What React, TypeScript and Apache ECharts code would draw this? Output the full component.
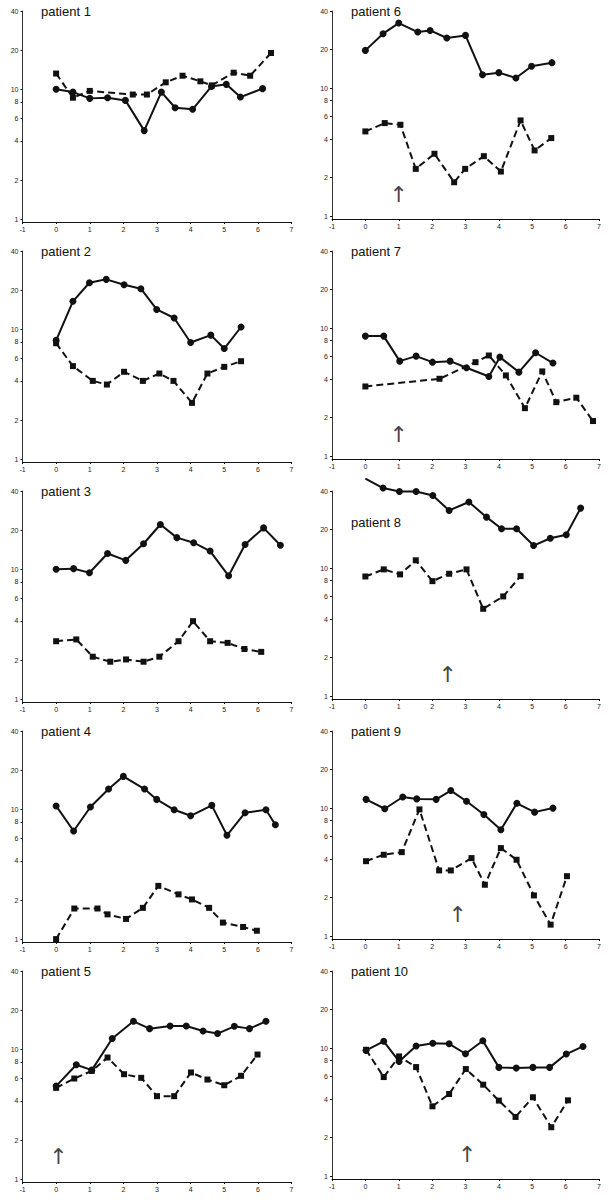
import React, { useEffect, useRef } from "react";
import * as echarts from "echarts";

const titles = ["patient 1", "patient 2", "patient 3", "patient 4", "patient 5", "patient 6", "patient 7", "patient 8", "patient 9", "patient 10"];
const yTickValues = [1, 2, 4, 6, 8, 10, 20, 40];
const xMin = -1;
const xMax = 7;

const p1Solid = [[0, 10.0], [0.5, 9.5], [1.0, 8.5], [1.53, 8.6], [2.06, 8.2], [2.62, 4.8], [3.13, 9.5], [3.54, 7.2], [4.06, 7.0], [4.62, 10.5], [5.06, 10.9], [5.48, 8.7], [6.14, 10.1]];
const p1Dashed = [[0, 13.2], [0.5, 8.6], [1.0, 9.7], [2.28, 9.1], [2.7, 9.1], [3.26, 11.3], [3.76, 12.7], [4.29, 11.5], [4.63, 10.7], [5.28, 13.4], [5.77, 12.7], [6.39, 19.0]];

const p2Solid = [[0, 8.2], [0.5, 16.4], [0.99, 22.8], [1.49, 24.2], [2.02, 22.0], [2.52, 20.5], [2.99, 14.2], [3.51, 12.2], [4.0, 7.9], [4.6, 9.0], [5.0, 7.1], [5.5, 10.4]];
const p2Dashed = [[0, 7.8], [0.5, 5.2], [1.09, 4.0], [1.51, 3.75], [2.02, 4.7], [2.58, 4.0], [3.07, 4.56], [3.49, 4.0], [4.04, 2.71], [4.5, 4.56], [5.0, 5.13], [5.5, 5.67]];

const p3Solid = [[0, 10.0], [0.52, 10.1], [0.99, 9.4], [1.53, 13.2], [2.07, 11.7], [2.6, 15.7], [3.1, 22.1], [3.59, 17.5], [4.09, 16.0], [4.58, 13.8], [5.13, 8.9], [5.62, 15.5], [6.17, 20.8], [6.67, 15.3]];
const p3Dashed = [[0, 2.79], [0.6, 2.88], [1.09, 2.12], [1.61, 1.94], [2.08, 2.02], [2.6, 1.94], [3.07, 2.12], [3.64, 2.79], [4.07, 3.98], [4.58, 2.79], [5.1, 2.71], [5.6, 2.43], [6.1, 2.31]];

const p4Solid = [[0, 10.6], [0.52, 6.8], [1.02, 10.4], [1.56, 14.3], [2.0, 17.9], [2.63, 14.3], [2.99, 11.9], [3.51, 9.9], [4.0, 8.9], [4.63, 10.7], [5.08, 6.3], [5.62, 9.4], [6.24, 9.9], [6.52, 7.6]];
const p4Dashed = [[0, 1.0], [0.54, 1.72], [1.23, 1.72], [1.53, 1.55], [2.08, 1.43], [2.58, 1.74], [3.04, 2.57], [3.64, 2.21], [4.04, 2.02], [4.55, 1.74], [4.96, 1.34], [5.56, 1.24], [5.97, 1.16]];

const p5Solid = [[0, 5.2], [0.6, 7.6], [1.06, 6.9], [1.67, 12.1], [2.3, 16.4], [2.78, 14.4], [3.39, 15.1], [3.87, 15.1], [4.37, 13.8], [4.8, 13.2], [5.3, 15.0], [5.75, 14.4], [6.24, 16.4]];
const p5Dashed = [[0, 5.04], [0.54, 5.95], [1.06, 6.81], [1.53, 8.63], [2.02, 6.42], [2.53, 6.02], [3.0, 4.35], [3.51, 4.35], [4.01, 6.62], [4.5, 5.84], [5.0, 5.28], [5.5, 6.24], [5.99, 9.1]];

const p6Solid = [[0, 19.7], [0.53, 26.6], [1.0, 32.2], [1.57, 27.4], [1.94, 28.2], [2.44, 24.6], [3.0, 25.8], [3.51, 12.7], [4.0, 13.2], [4.51, 12.0], [4.98, 14.8], [5.59, 15.8]];
const p6Dashed = [[0, 4.59], [0.58, 5.33], [1.05, 5.17], [1.51, 2.34], [2.07, 3.07], [2.66, 1.84], [2.99, 2.34], [3.55, 2.94], [4.06, 2.23], [4.65, 5.59], [5.07, 3.26], [5.57, 4.07]];

const p7Solid = [[0, 8.66], [0.55, 8.66], [1.03, 5.52], [1.52, 6.04], [2.01, 5.42], [2.54, 5.52], [3.03, 4.9], [3.7, 4.19], [4.03, 5.93], [4.6, 4.53], [5.1, 6.42], [5.62, 5.33]];
const p7Dashed = [[0, 3.5], [2.22, 4.02], [3.3, 5.42], [3.7, 6.11], [4.21, 4.27], [4.78, 2.37], [5.3, 4.59], [5.72, 2.64], [6.32, 2.86], [6.82, 1.88]];

const p8Start = [0, 50];
const p8Solid = [[0.53, 42.2], [1.02, 39.7], [1.52, 39.7], [2.02, 36.9], [2.51, 28.2], [3.1, 32.8], [3.63, 25.0], [4.08, 20.3], [4.53, 20.3], [5.04, 15.0], [5.54, 17.1], [6.02, 18.2], [6.45, 29.4]];
const p8Dashed = [[0, 8.6], [0.55, 9.77], [1.04, 8.93], [1.51, 11.5], [2.01, 7.91], [2.51, 9.03], [3.03, 9.77], [3.53, 4.81], [4.13, 6.01], [4.65, 8.66]];

const p9Solid = [[0.02, 11.7], [0.58, 9.88], [1.12, 12.2], [1.54, 11.8], [2.12, 11.7], [2.56, 13.7], [3.03, 11.3], [3.55, 8.92], [4.06, 6.77], [4.54, 10.9], [5.07, 9.3], [5.62, 10.0]];
const p9Dashed = [[0.02, 3.85], [0.55, 4.32], [1.09, 4.53], [1.62, 9.77], [2.21, 3.26], [2.56, 3.26], [3.18, 4.07], [3.58, 2.52], [4.06, 4.87], [4.53, 3.95], [5.05, 2.08], [5.55, 1.23], [6.04, 2.94]];

const p10Solid = [[0.02, 9.6], [0.55, 11.3], [1.01, 7.87], [1.52, 10.4], [2.02, 10.9], [2.51, 10.8], [3.0, 9.03], [3.52, 11.4], [4.0, 7.07], [4.52, 6.98], [5.02, 7.07], [5.52, 7.07], [6.02, 8.98], [6.52, 10.3]];
const p10Dashed = [[0.02, 9.7], [0.55, 5.94], [1.01, 8.61], [1.52, 7.11], [2.01, 3.51], [2.51, 4.38], [3.01, 6.86], [3.53, 5.18], [4.0, 3.89], [4.5, 2.9], [5.02, 4.13], [5.57, 2.41], [6.07, 3.91]];

// arrows: panel index (0-based), x, y
const arrowPanels = [4, 5, 6, 7, 8, 9];
const arrowX = [0.07, 1.0, 1.0, 2.47, 2.77, 3.05];
const arrowY = [1.5, 1.47, 1.47, 1.47, 1.47, 1.47];

const solidData: any[] = [p1Solid, p2Solid, p3Solid, p4Solid, p5Solid, p6Solid, p7Solid, [{ value: p8Start, symbol: "none" }, ...p8Solid], p9Solid, p10Solid];
const dashedData = [p1Dashed, p2Dashed, p3Dashed, p4Dashed, p5Dashed, p6Dashed, p7Dashed, p8Dashed, p9Dashed, p10Dashed];

const FONT = "'Liberation Sans', Arial, Helvetica, sans-serif";
const INK = "#111";

export default function App() {
  const ref = useRef<HTMLDivElement>(null);
  useEffect(() => {
    if (!ref.current) return;
    const chart = echarts.init(ref.current, undefined, { renderer: "svg" });
    const grids: any[] = [];
    const xAxes: any[] = [];
    const yAxes: any[] = [];
    const series: any[] = [];
    const title: any[] = [];
    for (let i = 0; i < 10; i++) {
      const col = i < 5 ? 0 : 1;
      const row = i % 5;
      const left = col === 0 ? 22.5 : 332;
      const width = col === 0 ? 269 : 267;
      const height = col === 0 ? 211 : 208;
      const top = row * 240 + 11;
      grids.push({ left, top, width, height });
      xAxes.push({
        type: "value",
        gridIndex: i,
        min: xMin,
        max: xMax,
        interval: 1,
        splitLine: { show: false },
        axisLine: { onZero: false, lineStyle: { color: INK, width: 1.2 } },
        axisTick: { length: 2, lineStyle: { color: INK } },
        axisLabel: { fontSize: 7, color: "#222", margin: 4, fontFamily: FONT },
      });
      yAxes.push({
        type: "log",
        gridIndex: i,
        min: 0.95,
        max: 40,
        splitLine: { show: false },
        minorTick: { show: false },
        axisLine: { show: true, onZero: false, lineStyle: { color: "#333", width: 1 } },
        axisTick: { show: true, length: 2, customValues: yTickValues, lineStyle: { color: INK } },
        axisLabel: { fontSize: 7, color: "#222", margin: 4, fontFamily: FONT, customValues: yTickValues },
      });
      title.push({
        text: titles[i],
        left: col === 0 ? 41 : 351,
        top: i === 7 ? row * 240 + 36 : row * 240 + 5,
        padding: 0,
        textStyle: { fontSize: 13, fontWeight: "normal", color: INK, fontFamily: FONT },
      });
      series.push({
        type: "line",
        xAxisIndex: i,
        yAxisIndex: i,
        data: dashedData[i],
        symbol: "rect",
        symbolSize: 6,
        clip: false,
        lineStyle: { color: INK, width: 2, type: [7, 4] },
        itemStyle: { color: INK },
        z: 2,
      });
      series.push({
        type: "line",
        xAxisIndex: i,
        yAxisIndex: i,
        data: solidData[i],
        symbol: "circle",
        symbolSize: 7,
        clip: false,
        lineStyle: { color: INK, width: 2 },
        itemStyle: { color: INK },
        z: 3,
      });
    }
    arrowPanels.forEach((p, k) => {
      series.push({
        type: "scatter",
        xAxisIndex: p,
        yAxisIndex: p,
        data: [[arrowX[k], arrowY[k]]],
        symbolSize: 1,
        itemStyle: { color: "rgba(255,255,255,0)" },
        label: {
          show: true,
          position: "inside",
          formatter: "\u2191",
          fontSize: 22,
          color: INK,
          textBorderWidth: 0,
          textBorderColor: "rgba(255,255,255,0)",
          fontFamily: "'DejaVu Sans', sans-serif",
        },
        z: 4,
      });
    });
    chart.setOption({
      animation: false,
      backgroundColor: "#fff",
      title,
      grid: grids,
      xAxis: xAxes,
      yAxis: yAxes,
      series,
    });
    return () => chart.dispose();
  }, []);
  return <div ref={ref} style={{ position: "absolute", left: 0, top: 0, width: 610, height: 1200 }} />;
}
